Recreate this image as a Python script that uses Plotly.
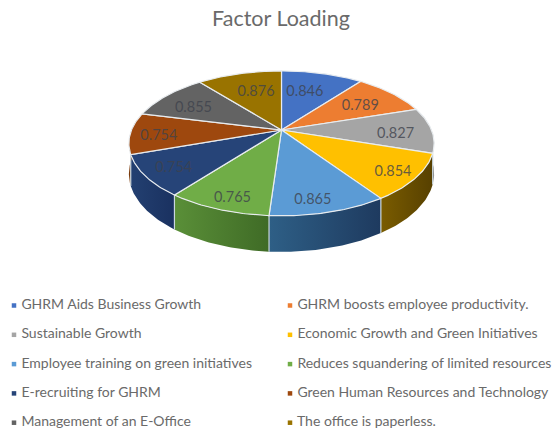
import numpy as np
import plotly.graph_objects as go

categories = ["GHRM Aids Business Growth", "GHRM boosts employee productivity.",
              "Sustainable Growth", "Economic Growth and Green Initiatives",
              "Employee training on green initiatives", "Reduces squandering of limited resources",
              "E-recruiting for GHRM", "Green Human Resources and Technology",
              "Management of an E-Office", "The office is paperless."]
values = [0.846, 0.789, 0.827, 0.854, 0.865, 0.765, 0.754, 0.754, 0.855, 0.876]
colors = ["#4472C4", "#ED7D31", "#A5A5A5", "#FFC000", "#5B9BD5",
          "#70AD47", "#264478", "#9E480E", "#636363", "#997300"]
side_left = ["#2F5597", "#B85F22", "#7C7C7C", "#7A5C00", "#2E5F86",
             "#5A8F38", "#234071", "#7A3A0B", "#4A4A4A", "#705400"]
side_right = ["#2F5597", "#B85F22", "#7C7C7C", "#574000", "#1E3A5F",
              "#3F6B26", "#1A3160", "#7A3A0B", "#4A4A4A", "#705400"]
# small hand placement of the data labels around their slice centre
label_dx = [-8, -5, 3, 15, -2, -4, -10, -11, -1, 7]
label_dy = [6, 4, 4, 8, 13, 13, 5, 4, 4, 6]

TXT = "#6A6A6A"
FONT = "Lato, 'Open Sans', sans-serif"
CX, CY, R, H, K, D = 281.5, 130.0, 150.0, 70.0, 0.1845, 29.4


def project(theta, r=1.0, drop=0.0):
    u, v = r * np.sin(theta), -r * np.cos(theta)
    w = 1 - K * v
    return CX + R * u / w, CY + (H * v + drop) / w


total = sum(values)
edges = np.concatenate([[0], np.cumsum(values)]) / total * 2 * np.pi
fig = go.Figure()

# walls
vis = (np.pi * 0.40, np.pi * 1.55)
for i in range(len(values)):
    a, b = max(edges[i], vis[0]), min(edges[i + 1], vis[1])
    if a >= b:
        continue
    t = np.linspace(a, b, 40)
    x1, y1 = project(t)
    x2, y2 = project(t[::-1], drop=D)
    fig.add_trace(go.Scatter(
        x=np.r_[x1, x2], y=np.r_[y1, y2], mode="lines", fill="toself",
        line=dict(width=0, color=side_left[i]),
        fillgradient=dict(type="horizontal", colorscale=[[0, side_left[i]], [1, side_right[i]]]),
        hoverinfo="skip", showlegend=False))

# light seams on the walls
sx, sy = [], []
for e in edges:
    if vis[0] < e < vis[1]:
        x1, y1 = project(e)
        x2, y2 = project(e, drop=D)
        sx += [x1, x2, None]
        sy += [y1, y2, None]
fig.add_trace(go.Scatter(x=sx, y=sy, mode="lines", line=dict(color="#C9D6DE", width=1.2),
                         hoverinfo="skip", showlegend=False))

# top slices
for i in range(len(values)):
    t = np.linspace(edges[i], edges[i + 1], 50)
    x, y = project(t)
    fig.add_trace(go.Scatter(
        x=np.r_[CX, x, CX], y=np.r_[CY, y, CY], mode="lines", fill="toself",
        fillcolor=colors[i], line=dict(color="#E8ECEF", width=1.2),
        name=categories[i], text=f"{categories[i]}: {values[i]}", hoverinfo="text",
        showlegend=False))

# data labels
mid = (edges[:-1] + edges[1:]) / 2
lx, ly = project(mid, r=0.74)
fig.add_trace(go.Scatter(x=lx + np.array(label_dx), y=ly + np.array(label_dy), mode="text",
                         text=[f"{v:.3f}" for v in values],
                         textfont=dict(family=FONT, size=14.5, color="rgba(62,66,76,0.8)"),
                         hoverinfo="skip", showlegend=False))

# legend
for i, c in enumerate(categories):
    col, row = i % 2, i // 2
    lxp = 14 if col == 0 else 290
    lyp = 305.5 + row * 29.3
    fig.add_trace(go.Scatter(x=[lxp], y=[lyp], mode="markers+text", text=[" " + c],
                             textposition="middle right",
                             marker=dict(symbol="square", size=4.5, color=colors[i]),
                             textfont=dict(family=FONT, size=14, color=TXT),
                             hoverinfo="skip", showlegend=False, cliponaxis=False))

fig.update_layout(
    width=557, height=433, autosize=False,
    margin=dict(l=0, r=0, t=0, b=0), paper_bgcolor="white", plot_bgcolor="white",
    showlegend=False,
    xaxis=dict(range=[0, 557], visible=False, fixedrange=True),
    yaxis=dict(range=[433, 0], visible=False, fixedrange=True),
    title=dict(text="Factor Loading", x=281 / 557, xanchor="center", y=1 - 18 / 433, yanchor="middle",
               font=dict(family=FONT, size=21.5, color="#6A6A6A")),
)
fig.write_html("out.html", config={"displayModeBar": False},
               post_script="document.body.style.margin='0';document.documentElement.style.overflow='hidden';")
